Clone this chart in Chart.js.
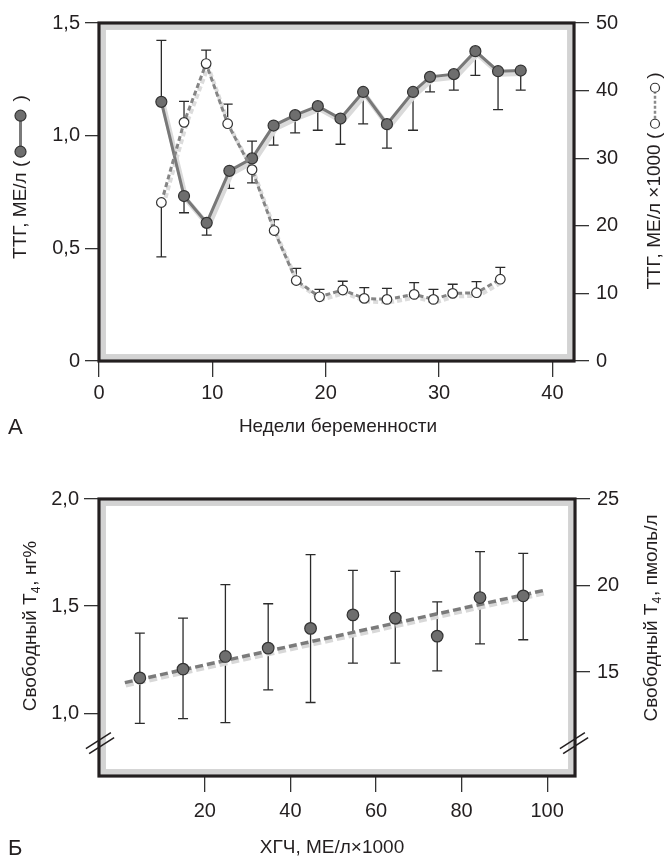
<!DOCTYPE html>
<html lang="ru">
<head>
<meta charset="utf-8">
<script src="https://cdn.jsdelivr.net/npm/chart.js@4.4.1/dist/chart.umd.min.js"></script>
<style>
  body { margin: 0; background: #fff; }
  #wrap { position: relative; width: 666px; height: 858px; }
  canvas { position: absolute; left: 0; }
  .tag { position: absolute; font-family: 'Liberation Sans', Arial, sans-serif; font-size: 22px; line-height: 1; color: #231f20; }
</style>
</head>
<body>
<div id="wrap">
  <canvas id="chartA" width="666" height="440" style="top:0"></canvas>
  <canvas id="chartB" width="666" height="418" style="top:440px"></canvas>
  <div class="tag" style="left:8px; top:416px">А</div>
  <div class="tag" style="left:8px; top:837px">Б</div>
</div>
<script>
// panel A: TSH and hCG by week of pregnancy
const weeksTtg = [5.5, 7.5, 9.5, 11.5, 13.5, 15.4, 17.3, 19.3, 21.3, 23.3, 25.4, 27.7, 29.2, 31.3, 33.2, 35.2, 37.2];
const ttg      = [1.15, 0.732, 0.613, 0.844, 0.899, 1.045, 1.091, 1.131, 1.076, 1.194, 1.051, 1.194, 1.261, 1.273, 1.375, 1.286, 1.289];
const ttgBar   = [1.423, 0.658, 0.559, 0.766, 0.976, 0.958, 1.012, 1.024, 0.962, 1.052, 0.945, 1.024, 1.194, 1.202, 1.268, 1.116, 1.202];

const weeksHcg = [5.5, 7.5, 9.45, 11.35, 13.5, 15.45, 17.4, 19.45, 21.5, 23.4, 25.4, 27.8, 29.5, 31.2, 33.3, 35.4];
const hcg      = [23.45, 35.3, 44.0, 35.1, 28.3, 19.3, 11.9, 9.5, 10.5, 9.26, 9.11, 9.85, 9.11, 10.0, 10.1, 12.1];
const hcgBar   = [15.4, 38.4, 46.0, 38.0, 26.35, 20.9, 13.7, 10.6, 11.8, 10.85, 10.75, 11.6, 10.6, 11.35, 11.75, 13.85];

const weekTicks = [0, 10, 20, 30, 40];
const ttgTicks = [0, 0.5, 1.0, 1.5];
const hcgKTicks = [0, 10, 20, 30, 40, 50];

// panel B: free T4 vs hCG
const hcgLevels = [4.8, 14.9, 24.8, 34.8, 44.7, 54.6, 64.5, 74.3, 84.3, 94.4];
const freeT4    = [1.165, 1.206, 1.265, 1.304, 1.396, 1.459, 1.444, 1.360, 1.540, 1.548];
const freeT4Hi  = [1.374, 1.444, 1.600, 1.511, 1.740, 1.667, 1.662, 1.520, 1.754, 1.746];
const freeT4Lo  = [0.953, 0.975, 0.956, 1.109, 1.050, 1.234, 1.234, 1.198, 1.324, 1.343];
const trendX = [1.3, 99.8];
const trendY = [1.143, 1.576];

const hcgLevelTicks = [20, 40, 60, 80, 100];
const t4Ticks = [1.0, 1.5, 2.0];
const t4PmolTicks = [15, 20, 25];

const FONT = "'Liberation Sans', Arial, sans-serif";
const INK = '#231f20';

const pts = (xs, ys) => xs.map((x, i) => ({ x: x, y: ys[i] }));
const comma = v => v === 0 ? '0' : v.toFixed(1).replace('.', ',');

// grey inner band + black frame around the plot area
const boxFrame = {
  id: 'boxFrame',
  beforeDatasetsDraw(chart) {
    const { ctx, chartArea: a } = chart;
    ctx.save();
    ctx.strokeStyle = '#d3d3d3';
    ctx.lineWidth = 5.5;
    ctx.strokeRect(a.left + 4.2, a.top + 4.2, a.width - 8.4, a.height - 8.4);
    ctx.strokeStyle = INK;
    ctx.lineWidth = 3.2;
    ctx.strokeRect(a.left, a.top, a.width, a.height);
    ctx.restore();
  }
};

const errorBars = {
  id: 'errorBars',
  beforeDatasetsDraw(chart) {
    const ctx = chart.ctx;
    chart.data.datasets.forEach((ds, di) => {
      let ends = null;
      if (ds.errEnd) ends = ds.errEnd.map((e, i) => [ds.data[i].y, e]);
      else if (ds.errLo) ends = ds.errLo.map((lo, i) => [lo, ds.errHi[i]]);
      if (!ends) return;
      const meta = chart.getDatasetMeta(di);
      const ys = chart.scales[meta.yAxisID];
      ctx.save();
      ctx.strokeStyle = '#2b2b2b';
      ctx.lineWidth = 1.3;
      ends.forEach(([a, b], i) => {
        const x = meta.data[i].x;
        const ya = ys.getPixelForValue(a), yb = ys.getPixelForValue(b);
        ctx.beginPath();
        ctx.moveTo(x, ya); ctx.lineTo(x, yb);
        ctx.moveTo(x - 5, yb); ctx.lineTo(x + 5, yb);
        if (ds.errLo) { ctx.moveTo(x - 5, ya); ctx.lineTo(x + 5, ya); }
        ctx.stroke();
      });
      ctx.restore();
    });
  }
};

// light shadow copies of the lines are drawn shifted
const shifted = {
  id: 'shifted',
  beforeDatasetDraw(chart, args) {
    const s = chart.data.datasets[args.index].shift;
    if (!s) return;
    chart.ctx.save();
    chart.ctx.translate(s[0], s[1]);
  },
  afterDatasetDraw(chart, args) {
    if (chart.data.datasets[args.index].shift) chart.ctx.restore();
  }
};

function drawKey(ctx, kind, x0, w) {
  const a = x0 + 9, b = x0 + w - 9;
  ctx.save();
  ctx.lineWidth = kind === 'filled' ? 3 : 2.5;
  ctx.strokeStyle = kind === 'filled' ? '#7a7a7a' : '#8a8a8a';
  if (kind === 'open') ctx.setLineDash([3, 2]);
  ctx.beginPath(); ctx.moveTo(a, 0); ctx.lineTo(b, 0); ctx.stroke();
  ctx.setLineDash([]);
  ctx.lineWidth = 1.2;
  ctx.strokeStyle = '#333';
  ctx.fillStyle = kind === 'filled' ? '#6e6e6e' : '#fff';
  [a, b].forEach(cx => {
    ctx.beginPath(); ctx.arc(cx, 0, kind === 'filled' ? 5.5 : 4.5, 0, Math.PI * 2);
    ctx.fill(); ctx.stroke();
  });
  ctx.restore();
}

// axis titles, all reading bottom-to-top on both sides
const titles = {
  id: 'titles',
  afterDraw(chart, args, opts) {
    const ctx = chart.ctx;
    opts.items.forEach(t => {
      ctx.save();
      ctx.translate(t.x, t.y);
      if (t.vertical) ctx.rotate(-Math.PI / 2);
      ctx.fillStyle = INK;
      ctx.textBaseline = 'middle';
      ctx.textAlign = 'left';
      const big = `${t.size}px ${FONT}`, small = `${Math.round(t.size * 0.62)}px ${FONT}`;
      const widths = t.parts.map(p => {
        if (typeof p === 'string') { ctx.font = big; return ctx.measureText(p).width; }
        if (p.sub) { ctx.font = small; return ctx.measureText(p.sub).width + 1; }
        return p.w;
      });
      let cx = -widths.reduce((s, w) => s + w, 0) / 2;
      t.parts.forEach((p, i) => {
        if (typeof p === 'string') { ctx.font = big; ctx.fillText(p, cx, 0); }
        else if (p.sub) { ctx.font = small; ctx.fillText(p.sub, cx, t.size * 0.3); }
        else drawKey(ctx, p.key, cx, p.w);
        cx += widths[i];
      });
      ctx.restore();
    });
  }
};

const breakMarks = {
  id: 'breakMarks',
  afterDraw(chart, args, opts) {
    if (!opts.at) return;
    const { ctx, chartArea: a } = chart;
    const cy = chart.scales.y.getPixelForValue(opts.at);
    ctx.save();
    ctx.strokeStyle = INK;
    ctx.lineWidth = 1.5;
    [a.left + 1, a.right - 1].forEach(cx => {
      [-3, 3].forEach(d => {
        const ox = cx + d * 0.54, oy = cy + d * 0.84;
        ctx.beginPath();
        ctx.moveTo(ox - 12.5, oy + 8);
        ctx.lineTo(ox + 12.5, oy - 8);
        ctx.stroke();
      });
    });
    ctx.restore();
  }
};

const tickFont = { family: FONT, size: 20 };
const tickGrid = len => ({ drawOnChartArea: false, drawTicks: true, tickLength: len, color: '#333', lineWidth: 1.3 });
const fixTicks = list => s => { s.ticks = list.map(v => ({ value: v })); };

Chart.defaults.font.family = FONT;

new Chart(document.getElementById('chartA'), {
  type: 'line',
  data: {
    datasets: [
      { data: pts(weeksTtg, ttg), yAxisID: 'y', borderColor: '#dadada', borderWidth: 5,
        pointRadius: 0, shift: [2, 3], order: 4 },
      { data: pts(weeksHcg, hcg), yAxisID: 'y2', borderColor: '#dcdcdc', borderWidth: 4,
        borderDash: [5, 3], pointRadius: 0, shift: [2, 3], order: 3 },
      { label: 'ТТГ', data: pts(weeksTtg, ttg), yAxisID: 'y', borderColor: '#787878', borderWidth: 3,
        pointRadius: 5.5, pointBackgroundColor: '#6e6e6e', pointBorderColor: '#333', pointBorderWidth: 1.2,
        errEnd: ttgBar, order: 2 },
      { label: 'ХГЧ', data: pts(weeksHcg, hcg), yAxisID: 'y2', borderColor: '#858585', borderWidth: 3,
        borderDash: [5, 3], pointRadius: 4.8, pointBackgroundColor: '#fff', pointBorderColor: '#333',
        pointBorderWidth: 1.2, errEnd: hcgBar, order: 1 }
    ]
  },
  options: {
    responsive: false,
    animation: false,
    layout: { padding: { top: 23 } },
    elements: { line: { tension: 0 } },
    scales: {
      x: {
        type: 'linear', min: 0, max: 41.9,
        afterBuildTicks: fixTicks(weekTicks),
        afterFit: s => { s.height = 79; },
        grid: tickGrid(16), border: { display: false },
        ticks: { font: tickFont, color: INK, padding: 4, maxRotation: 0 }
      },
      y: {
        position: 'left', min: 0, max: 1.5,
        afterBuildTicks: fixTicks(ttgTicks),
        afterFit: s => { s.width = 99; },
        grid: tickGrid(14), border: { display: false },
        ticks: { font: tickFont, color: INK, padding: 5, callback: comma }
      },
      y2: {
        position: 'right', min: 0, max: 50,
        afterBuildTicks: fixTicks(hcgKTicks),
        afterFit: s => { s.width = 92; },
        grid: tickGrid(15), border: { display: false },
        ticks: { font: tickFont, color: INK, padding: 7 }
      }
    },
    plugins: {
      legend: { display: false },
      tooltip: { enabled: false },
      titles: { items: [
        { x: 20.5, y: 177, vertical: true, size: 19, parts: ['ТТГ, МЕ/л (', { key: 'filled', w: 54 }, ' )'] },
        { x: 655, y: 181, vertical: true, size: 19, parts: ['ТТГ, МЕ/л ×1000 (', { key: 'open', w: 54 }, ')'] },
        { x: 338, y: 427, size: 19, parts: ['Недели беременности'] }
      ] }
    }
  },
  plugins: [boxFrame, errorBars, shifted, titles, breakMarks]
});

new Chart(document.getElementById('chartB'), {
  type: 'line',
  data: {
    datasets: [
      { data: pts(trendX, trendY), borderColor: '#d8d8d8', borderWidth: 4, borderDash: [8, 4],
        pointRadius: 0, shift: [1, 3], order: 3 },
      { label: 'тренд', data: pts(trendX, trendY), borderColor: '#7b7b7b', borderWidth: 3.5, borderDash: [8, 4],
        pointRadius: 0, order: 2 },
      { label: 'Свободный T4', data: pts(hcgLevels, freeT4), showLine: false,
        pointRadius: 5.8, pointBackgroundColor: '#6e6e6e', pointBorderColor: '#333', pointBorderWidth: 1.2,
        errLo: freeT4Lo, errHi: freeT4Hi, order: 1 }
    ]
  },
  options: {
    responsive: false,
    animation: false,
    layout: { padding: { top: 59 } },
    scales: {
      x: {
        type: 'linear', min: -4.74, max: 106.5,
        afterBuildTicks: fixTicks(hcgLevelTicks),
        afterFit: s => { s.height = 82; },
        grid: tickGrid(16), border: { display: false },
        ticks: { font: tickFont, color: INK, padding: 7, maxRotation: 0 }
      },
      y: {
        position: 'left', min: 0.707, max: 2.0,
        afterBuildTicks: fixTicks(t4Ticks),
        afterFit: s => { s.width = 99; },
        grid: tickGrid(15), border: { display: false },
        ticks: { font: tickFont, color: INK, padding: 5, callback: comma }
      },
      y2: {
        position: 'right', min: 9.0, max: 25,
        afterBuildTicks: fixTicks(t4PmolTicks),
        afterFit: s => { s.width = 91; },
        grid: tickGrid(15), border: { display: false },
        ticks: { font: tickFont, color: INK, padding: 7 }
      }
    },
    plugins: {
      legend: { display: false },
      tooltip: { enabled: false },
      breakMarks: { at: 0.86 },
      titles: { items: [
        { x: 31, y: 186, vertical: true, size: 19, parts: ['Свободный T', { sub: '4' }, ', нг%'] },
        { x: 652, y: 178, vertical: true, size: 19, parts: ['Свободный T', { sub: '4' }, ', пмоль/л'] },
        { x: 332, y: 408, size: 19, parts: ['ХГЧ, МЕ/л×1000'] }
      ] }
    }
  },
  plugins: [boxFrame, errorBars, shifted, titles, breakMarks]
});
</script>
</body>
</html>
